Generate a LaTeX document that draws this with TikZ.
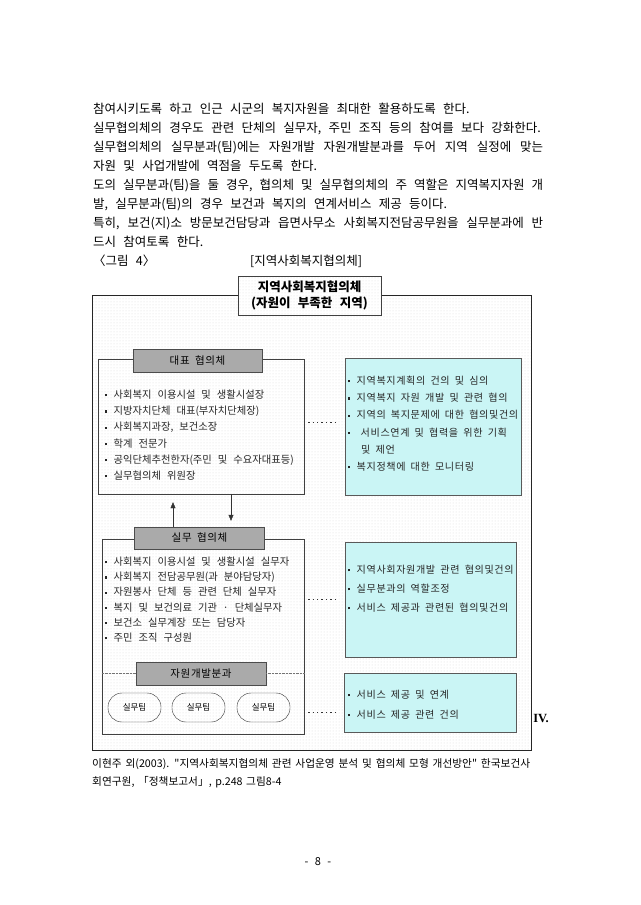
\documentclass[tikz,border=0pt]{standalone}
\usepackage{fontspec}
\setmainfont{Noto Sans CJK KR}[WordSpace=2.6]
\newfontfamily\citefont{Noto Sans CJK KR}[WordSpace=1.5]
\newfontfamily\wideitem{Noto Sans CJK KR}[WordSpace=1.8, LetterSpace=6]
\newfontfamily\romfont{Liberation Serif}
\usepackage{xcolor}
\usetikzlibrary{arrows.meta, patterns, calc}
\definecolor{cyanfill}{RGB}{202,245,245}
\definecolor{headgray}{RGB}{170,170,170}
\newcommand\justline[2]{\makebox[#1pt][s]{#2}}
\newcommand\bul{\makebox[8.5pt][l]{\raisebox{2.2pt}{\rule{2.2pt}{2.2pt}}}}
\tikzstyle{textline} = [anchor=west, inner sep=0pt, text height=9pt, text depth=2.5pt,
    font=\fontsize{12.5}{15}\selectfont]
\tikzstyle{citeline} = [anchor=west, inner sep=0pt, text height=8pt, text depth=2.5pt,
    font=\citefont\fontsize{10.7}{13}\selectfont]
\tikzstyle{item} = [anchor=west, inner sep=0pt, text height=7.5pt, text depth=2.5pt,
    font=\fontsize{10.3}{12}\selectfont, text=black!85]
\tikzstyle{cyitem} = [item, font=\wideitem\fontsize{10.1}{12}\selectfont]
\tikzstyle{outerframe} = [draw=black!85, pattern=dots, pattern color=black!14]
\tikzstyle{group} = [draw=black!75]
\tikzstyle{titlebox} = [draw=black!75, thick, preaction={fill=white}, pattern=dots,
    pattern color=black!12, align=center, font=\bfseries\fontsize{12.5}{16.5}\selectfont]
\tikzstyle{header} = [draw=black!70, fill=headgray, font=\wideitem\fontsize{10.5}{12}\selectfont]
\tikzstyle{infobox} = [draw=black!65, thick, fill=cyanfill]
\tikzstyle{team} = [draw=black!80, rounded corners=14pt, minimum width=53, minimum height=29,
    font=\fontsize{8.5}{10}\selectfont]
\tikzstyle{arrow} = [-{Triangle[length=6pt,width=5pt]}, black!80]
\tikzstyle{link} = [line width=1.4pt, dash pattern=on 1.4pt off 3pt, black!80]

\begin{document}
\begin{tikzpicture}[x=1pt, y=-1pt]
    \useasboundingbox[fill=white] (0,0) rectangle (640,905);

    % Body text
    \node[textline] (l1) at (93,110) {참여시키도록 하고 인근 시군의 복지자원을 최대한 활용하도록 한다.};
    \node[textline] (l2) at (93,129) {실무협의체의 경우도 관련 단체의 실무자, 주민 조직 등의 참여를 보다 강화한다.};
    \node[textline] (l3) at (93,148) {\justline{450}{실무협의체의 실무분과(팀)에는 자원개발 자원개발분과를 두어 지역 실정에 맞는}};
    \node[textline] (l4) at (93,167) {자원 및 사업개발에 역점을 두도록 한다.};
    \node[textline] (l5) at (93,186) {\justline{450}{도의 실무분과(팀)을 둘 경우, 협의체 및 실무협의체의 주 역할은 지역복지자원 개}};
    \node[textline] (l6) at (93,205) {발, 실무분과(팀)의 경우 보건과 복지의 연계서비스 제공 등이다.};
    \node[textline] (l7) at (93,224) {\justline{450}{특히, 보건(지)소 방문보건담당과 읍면사무소 사회복지전담공무원을 실무분과에 반}};
    \node[textline] (l8) at (93,243) {드시 참여토록 한다.};
    \node[textline] (fignum) at (93,262) {〈그림 4〉};
    \node[textline] (figname) at (250,262) {[지역사회복지협의체]};

    % Frame and title
    \node[outerframe, minimum width=439, minimum height=455] (frame) at (311.5,522.5) {};
    \node[titlebox, minimum width=143, minimum height=39] (title) at (309.5,295.5)
        {지역사회복지협의체\\(자원이 부족한 지역)};

    % Representative council
    \node[group, minimum width=206, minimum height=135] (rep) at (201,426.5) {};
    \node[header, minimum width=129, minimum height=23] (rephead) at (197.5,360.5) {대표 협의체};
    \foreach \txt [count=\i] in {사회복지 이용시설 및 생활시설장, 지방자치단체 대표(부자치단체장),
        {사회복지과장, 보건소장}, 학계 전문가, 공익단체추천한자(주민 및 수요자대표등), 실무협의체 위원장}
        \node[item] (rep\i) at (105,{396+16.2*(\i-1)}) {\bul\txt};

    \node[infobox, minimum width=176, minimum height=137] (cy1) at (433,426.5) {};
    \foreach \txt [count=\i] in {\bul 지역복지계획의 건의 및 심의, \bul 지역복지 자원 개발 및 관련 협의,
        \bul 지역의 복지문제에 대한 협의및건의, \bul\hspace{4pt}서비스연계 및 협력을 위한 기획,
        \hspace{13pt}및 제언, \bul 복지정책에 대한 모니터링}
        \node[cyitem] (cya\i) at (348,{382+17.2*(\i-1)}) {\txt};

    % Working council
    \node[group, minimum width=202, minimum height=195] (sil) at (203,636.5) {};
    \node[header, minimum width=130, minimum height=22] (silhead) at (199.5,538) {실무 협의체};
    \foreach \txt [count=\i] in {사회복지 이용시설 및 생활시설 실무자, 사회복지 전담공무원(과 분야담당자),
        자원봉사 단체 등 관련 단체 실무자, 복지 및 보건의료 기관 · 단체실무자,
        보건소 실무계장 또는 담당자, 주민 조직 구성원}
        \node[item] (sil\i) at (105,{563+15.2*(\i-1)}) {\bul\txt};

    \node[header, minimum width=130, minimum height=23] (devhead) at (201,673.5) {자원개발분과};
    \draw[densely dotted, black!55] (sil.west |- devhead.west) -- (devhead.west);
    \draw[densely dotted, black!55] (devhead.east) -- (sil.east |- devhead.east);
    \node[team] (team1) at (134.5,707.5) {실무팀};
    \node[team] (team2) at (198.5,707.5) {실무팀};
    \node[team] (team3) at (263.5,707.5) {실무팀};

    \node[infobox, minimum width=171, minimum height=115] (cy2) at (430.5,599.5) {};
    \foreach \txt [count=\i] in {지역사회자원개발 관련 협의및건의, 실무분과의 역할조정,
        서비스 제공과 관련된 협의및건의}
        \node[cyitem] (cyb\i) at (348,{571+19*(\i-1)}) {\bul\txt};

    \node[infobox, minimum width=172, minimum height=59] (cy3) at (430,702.5) {};
    \node[cyitem] (cyc1) at (348,696) {\bul 서비스 제공 및 연계};
    \node[cyitem] (cyc2) at (348,716) {\bul 서비스 제공 관련 건의};

    % Connectors
    \coordinate (upx) at (173,0);
    \coordinate (dnx) at (231,0);
    \draw[arrow] (silhead.north -| upx) -- ([yshift=-8pt]rep.south -| upx);
    \draw[arrow] (rep.south -| dnx) -- ([yshift=6pt]silhead.north -| dnx);
    \draw[link, shorten <=4pt, shorten >=7pt] ([yshift=4pt]rep.east) -- ([yshift=4pt]rep.east -| cy1.west);
    \draw[link, shorten <=4pt, shorten >=7pt] (sil.east |- cy2.west) -- (cy2.west);
    \draw[link, shorten <=4pt, shorten >=7pt] ([yshift=-5pt]team3.east -| sil.east) -- ([yshift=-5pt]team3.east -| cy3.west);

    \node[font=\romfont\bfseries\fontsize{12.5}{14}\selectfont, inner sep=0pt] (chap) at (541,718) {IV.};

    % Source and page number
    \node[citeline] (src1) at (92,765) {\justline{438}{이현주 외(2003). "지역사회복지협의체 관련 사업운영 분석 및 협의체 모형 개선방안" 한국보건사}};
    \node[citeline] (src2) at (92,783) {회연구원, 「정책보고서」, p.248 그림8-4};
    \node[font=\fontsize{11}{13}\selectfont] (page) at (318,862) {- 8 -};
\end{tikzpicture}
\end{document}
